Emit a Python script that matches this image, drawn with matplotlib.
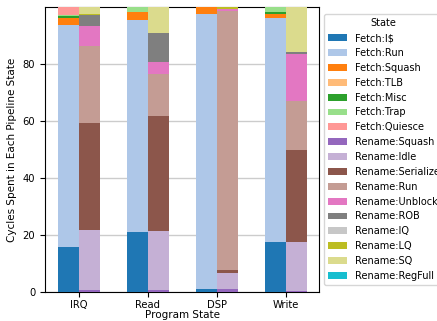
import numpy as np
import matplotlib
matplotlib.use("Agg")
import matplotlib.pyplot as plt

programs = ["IRQ", "Read", "DSP", "Write"]

fetch_states = ["Fetch:I$", "Fetch:Run", "Fetch:Squash", "Fetch:TLB",
                "Fetch:Misc", "Fetch:Trap", "Fetch:Quiesce"]
rename_states = ["Rename:Squash", "Rename:Idle", "Rename:Serialize", "Rename:Run",
                 "Rename:Unblock", "Rename:ROB", "Rename:IQ", "Rename:LQ",
                 "Rename:SQ", "Rename:RegFull"]

fetch_colors = ["#1f77b4", "#aec7e8", "#ff7f0e", "#ffbb78",
                "#2ca02c", "#98df8a", "#ff9896"]
rename_colors = ["#9467bd", "#c5b0d5", "#8c564b", "#c49c94", "#e377c2",
                 "#7f7f7f", "#c7c7c7", "#bcbd22", "#dbdb8d", "#17becf"]

# percentage of cycles per state, one row per program (IRQ, Read, DSP, Write)
fetch_pct = [
    [15.9, 77.8, 2.4, 0.0, 0.5, 0.6, 2.8],
    [21.2, 74.1, 2.8, 0.0, 0.1, 1.8, 0.0],
    [1.0, 96.6, 2.4, 0.0, 0.0, 0.0, 0.0],
    [17.5, 78.4, 1.6, 0.0, 0.5, 2.0, 0.0],
]
rename_pct = [
    [0.7, 21.05, 37.65, 27.0, 6.7, 3.9, 0.0, 0.4, 2.6, 0.0],
    [0.6, 20.9, 40.3, 14.8, 4.1, 10.2, 0.0, 0.0, 9.1, 0.0],
    [1.0, 5.7, 1.0, 90.9, 0.7, 0.0, 0.0, 0.7, 0.0, 0.0],
    [0.3, 17.2, 32.3, 17.0, 16.7, 0.8, 0.0, 0.0, 15.7, 0.0],
]

plt.rcParams["font.family"] = ["DejaVu Sans"]
plt.rcParams["font.size"] = 7.5

fig = plt.figure(figsize=(4.37, 3.21), dpi=100)
ax = fig.add_axes([0.103, 0.0903, 0.627, 0.8877])

x = np.arange(len(programs))
width = 0.3

fetch = np.array(fetch_pct)
bottom = np.zeros(len(programs))
for i, name in enumerate(fetch_states):
    ax.bar(x - width / 2, fetch[:, i], width, bottom=bottom,
           color=fetch_colors[i], label=name, zorder=3)
    bottom += fetch[:, i]

rename = np.array(rename_pct)
bottom = np.zeros(len(programs))
for j, name in enumerate(rename_states):
    ax.bar(x + width / 2, rename[:, j], width, bottom=bottom,
           color=rename_colors[j], label=name, zorder=3)
    bottom += rename[:, j]

ax.set_xlim(-0.49, 3.48)
ax.set_ylim(0, 99.9)
ax.set_xticks(x)
ax.set_xticklabels(programs)
ax.set_yticks([0, 20, 40, 60, 80])
ax.tick_params(axis="both", labelsize=7.2)
ax.tick_params(axis="x", pad=2.5)
ax.yaxis.grid(True, color="#cccccc", linewidth=1.0, zorder=0)
ax.set_axisbelow(True)
ax.set_xlabel("Program State", labelpad=0)
ax.set_ylabel("Cycles Spent in Each Pipeline State", labelpad=4)

ax.legend(title="State", loc="center left", bbox_to_anchor=(1.0, 0.5),
          fontsize=7, title_fontsize=7)

fig.savefig("out.png", dpi=100)
